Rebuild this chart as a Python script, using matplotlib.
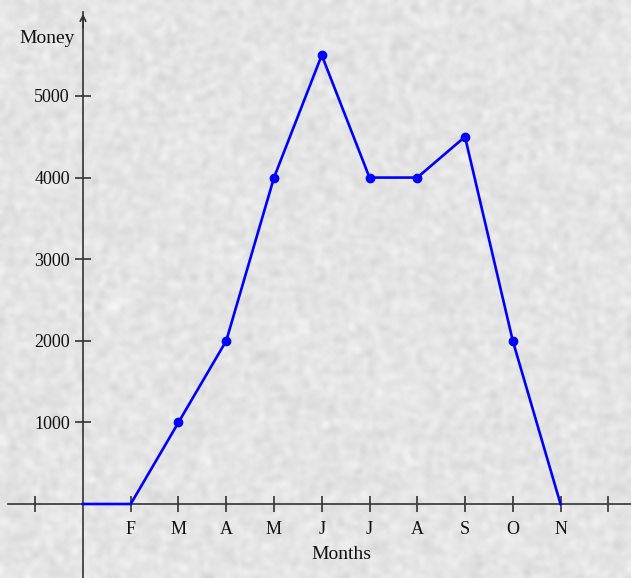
import numpy as np
import matplotlib
matplotlib.use("Agg")
import matplotlib.pyplot as plt

# Data
months = ['F', 'M', 'A', 'M', 'J', 'J', 'A', 'S', 'O', 'N']
month_pos = [1, 2, 3, 4, 5, 6, 7, 8, 9, 10]
line_x = [0, 1, 2, 3, 4, 5, 6, 7, 8, 9, 10]
line_y = [0, 0, 1000, 2000, 4000, 5500, 4000, 4000, 4500, 2000, 0]
dot_x = [2, 3, 4, 5, 6, 7, 8, 9]
dot_y = [1000, 2000, 4000, 5500, 4000, 4000, 4500, 2000]
y_ticks = [1000, 2000, 3000, 4000, 5000]

plt.rcParams['font.family'] = ['Liberation Serif', 'DejaVu Serif']

fig = plt.figure(figsize=(6.31, 5.78), dpi=100)

# paper-like grey texture behind the chart
rng = np.random.default_rng(3)
tex = rng.normal(0, 1, (578 // 3 + 2, 631 // 3 + 2))
tex = (tex + np.roll(tex, 1, 0) + np.roll(tex, 1, 1) + np.roll(tex, -1, 0) + np.roll(tex, -1, 1)) / 5
bg = fig.add_axes([0, 0, 1, 1])
bg.imshow(0.895 + 0.045 * tex, cmap='gray', vmin=0, vmax=1, aspect='auto', interpolation='bicubic')
bg.axis('off')

ax = fig.add_axes([0, 0, 1, 1])
ax.patch.set_alpha(0)
ax.set_xlim(-1.738, 11.476)
ax.set_ylim(-907, 6176)

ax.spines['top'].set_visible(False)
ax.spines['right'].set_visible(False)
ax.spines['left'].set_position(('data', 0))
ax.spines['bottom'].set_position(('data', 0))
ax.spines['left'].set_bounds(-907, 6030)
ax.spines['bottom'].set_bounds(-1.57, 11.476)
for s in ['left', 'bottom']:
    ax.spines[s].set_color('#333333')
    ax.spines[s].set_linewidth(1.2)

ax.set_xticks([-1] + month_pos + [11])
ax.set_xticklabels([''] + months + [''])
ax.set_yticks(y_ticks)
ax.tick_params(direction='inout', length=11, width=1.2, color='#333333',
               labelsize=13, labelcolor='#111111', pad=4)
ax.tick_params(axis='x', pad=7)

# arrow head on top of the y axis
ax.annotate('', xy=(0, 6040), xytext=(0, 5800),
            arrowprops=dict(arrowstyle='->', color='#333333', lw=1.2))

ax.plot(line_x, line_y, color='#0000ff', lw=1.9, zorder=3)
ax.plot(dot_x, dot_y, 'o', color='#0000ff', ms=6, zorder=4)

ax.text(-0.18, 5600, 'Money', ha='right', va='bottom', fontsize=14, color='#111111')
ax.text(5.42, -510, 'Months', ha='center', va='top', fontsize=14, color='#111111')

fig.savefig('out.png', dpi=100)
